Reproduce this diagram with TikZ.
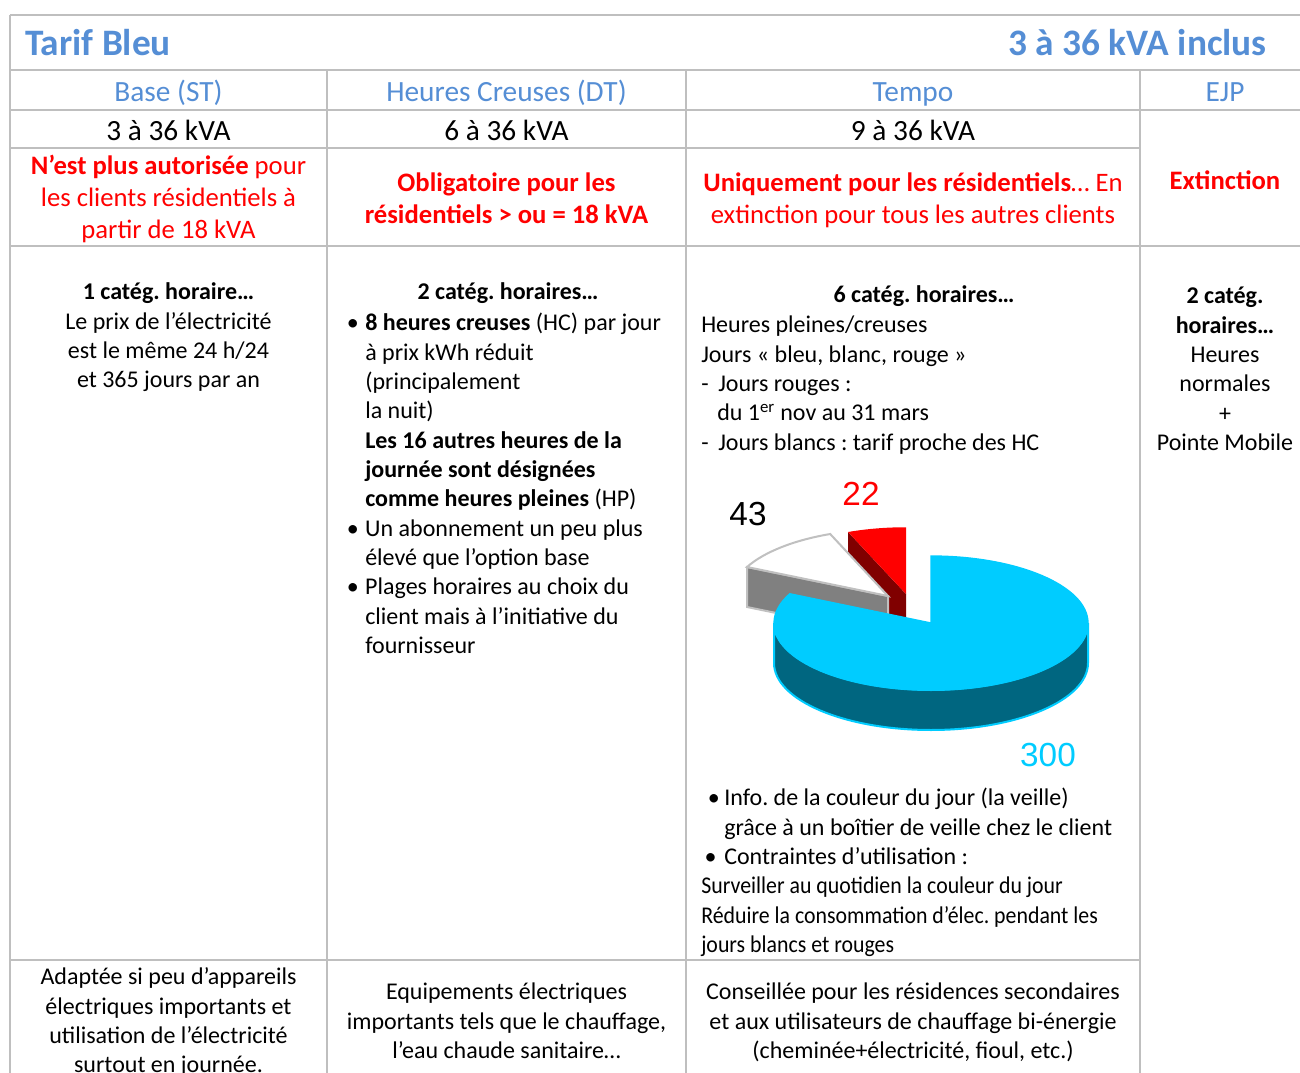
\documentclass[tikz,border=0pt]{standalone}
\usepackage{fontspec}
\usepackage{graphicx}
\setmainfont{Carlito}
\newfontfamily\chartfont{Liberation Sans}
\usetikzlibrary{positioning}
\frenchspacing
\definecolor{gridgray}{HTML}{BFBFBF}
\definecolor{hdrblue}{HTML}{558ED5}
\definecolor{pieblue}{HTML}{00CCFF}
\definecolor{pieteal}{HTML}{006680}
\definecolor{piedark}{HTML}{800000}
\definecolor{piegray}{HTML}{808080}
\definecolor{pieedge}{HTML}{C0C0C0}
\newcommand{\bul}{\makebox[15.75pt][l]{\hspace*{2pt}\textbullet}}
\newcommand{\ind}{\hspace*{15.75pt}}
\newcommand{\narrow}[1]{\scalebox{0.91}[1]{#1}}

\begin{document}
\begin{tikzpicture}[x=0.75pt,y=-0.75pt,
	grid/.style={draw=gridgray, line width=1.5pt},
	title/.style={text=hdrblue, font=\fontsize{28}{32}\selectfont\bfseries, inner sep=0pt},
	hdr/.style={text=hdrblue, font=\fontsize{22}{26}\selectfont, inner sep=0pt, anchor=base},
	kva/.style={font=\fontsize{22}{26}\selectfont, inner sep=0pt, anchor=base},
	warn/.style={text=red, font=\fontsize{20}{24}\selectfont, inner sep=0pt, anchor=base, align=center},
	cell/.style={font=\fontsize{18}{22}\selectfont, inner sep=0pt, anchor=base, align=center},
	lcell/.style={font=\fontsize{18}{22}\selectfont, inner sep=0pt, anchor=base west, align=left},
	chart/.style={font=\fontsize{25}{28}\chartfont, inner sep=0pt},
	edge/.style={draw=pieedge, line width=1.5pt}]
	% base of a multi-line node is its last line: first baseline + (n-1) skips
	\pgfmathsetmacro{\lineSkip}{29.33}
	\pgfmathsetmacro{\warnSkip}{32}
	
	\fill[white] (0,0) rectangle (1300,1073);
	\useasboundingbox (0,0) rectangle (1300,1073);
	
	% table grid
	\draw[grid] (10,15) -- (1300,15);
	\draw[grid] (10,70) -- (1300,70);
	\draw[grid] (10,110) -- (1300,110);
	\draw[grid] (10,148) -- (1140,148);
	\draw[grid] (10,246) -- (1300,246);
	\draw[grid] (10,960) -- (1140,960);
	\draw[grid] (10,15) -- (10,1073);
	\foreach \x in {327,686,1140} {
		\draw[grid] (\x,70) -- (\x,1073);
	}
	
	% title row
	\node[title, anchor=base west] (tarif) at (25,56) {Tarif Bleu};
	\node[title, anchor=base east] (range) at (1267,56) {3 à 36 kVA inclus};
	
	% option names
	\node[hdr] (hBase) at (168.5,102) {Base (ST)};
	\node[hdr] (hHC) at (506.5,102) {Heures Creuses (DT)};
	\node[hdr] (hTempo) at (913,102) {Tempo};
	\node[hdr] (hEJP) at (1225,102) {EJP};
	
	\node[kva] (pBase) at (168.5,141) {3 à 36 kVA};
	\node[kva] (pHC) at (506.5,141) {6 à 36 kVA};
	\node[kva] (pTempo) at (913,141) {9 à 36 kVA};
	
	% who may subscribe
	\node[warn] (rBase) at (168.5,{175+2*\warnSkip}) {\textbf{N’est plus autorisée} pour\\les clients résidentiels à\\partir de 18 kVA};
	\node[warn] (rHC) at (506.5,{192+\warnSkip}) {\textbf{Obligatoire pour les}\\\textbf{résidentiels > ou = 18 kVA}};
	\node[warn] (rTempo) at (913,{192+\warnSkip}) {\textbf{Uniquement pour les résidentiels}… En\\extinction pour tous les autres clients};
	\node[warn] (rEJP) at (1225,190) {\textbf{Extinction}};
	
	% time slots
	\node[cell] (cBase) at (168.5,{300+3*\lineSkip}) {\textbf{1 catég. horaire…}\\Le prix de l’électricité\\est le même 24 h/24\\et 365 jours par an};
	\node[cell] (tHC) at (508,300) {\textbf{2 catég. horaires…}};
	\node[lcell] (cHC) at (344,{331+11*\lineSkip}) {\bul\textbf{8 heures creuses} (HC) par jour\\
		\ind à prix kWh réduit\\
		\ind (principalement\\
		\ind la nuit)\\
		\ind\textbf{Les 16 autres heures de la}\\
		\ind\textbf{journée sont désignées}\\
		\ind\textbf{comme heures pleines} (HP)\\
		\bul Un abonnement un peu plus\\
		\ind élevé que l’option base\\
		\bul Plages horaires au choix du\\
		\ind client mais à l’initiative du\\
		\ind fournisseur};
	\node[cell] (tTempo) at (924,303) {\textbf{6 catég. horaires…}};
	\node[lcell] (cTempo) at (701,{333+4*\lineSkip}) {Heures pleines/creuses\\
		Jours « bleu, blanc, rouge »\\
		\makebox[12.75pt][l]{-}Jours rouges :\\
		\hspace*{12pt}du 1\textsuperscript{er} nov au 31 mars\\
		\makebox[12.75pt][l]{-}Jours blancs : tarif proche des HC};
	\node[cell] (cEJP) at (1225,{304+5*\lineSkip}) {\textbf{2 catég.}\\\textbf{horaires…}\\Heures\\normales\\+\\Pointe Mobile};
	
	% pie of the days in a Tempo year
	\fill[piedark] (906,594) -- (848,532) -- (848,572) -- (906,634) -- cycle;
	\fill[red] (906,594) -- (848,532) arc[start angle=248.3, end angle=270, x radius=157, y radius=67] -- cycle;
	\filldraw[edge, fill=piegray] (888,596) -- (747,567) -- (747,607) -- (888,636) -- cycle;
	\filldraw[edge, fill=white] (888,596) -- (747,567) arc[start angle=205.9, end angle=248.3, x radius=157, y radius=67] -- cycle;
	\filldraw[fill=pieteal, draw=pieblue, line width=1.5pt] (1088,623) arc[start angle=0, end angle=180, x radius=157, y radius=67] -- (774,663) arc[start angle=180, end angle=0, x radius=157, y radius=67] -- cycle;
	\filldraw[fill=pieblue, draw=pieblue, line width=1pt] (931,623) -- (931,556) arc[start angle=270, end angle=565.9, x radius=157, y radius=67] -- cycle;
	\node[chart, text=black] (nWhite) at (748,514) {43};
	\node[chart, text=red] (nRed) at (861,494) {22};
	\node[chart, text=pieblue] (nBlue) at (1048,755) {300};
	
	\node[lcell] (cTempoB) at (701,{806+5*\lineSkip}) {\hspace*{5pt}\makebox[12.25pt][l]{\textbullet}Info. de la couleur du jour (la veille)\\
		\hspace*{17.25pt}grâce à un boîtier de veille chez le client\\
		\hspace*{2.5pt}\makebox[14.75pt][l]{\textbullet}Contraintes d’utilisation :\\
		\narrow{Surveiller au quotidien la couleur du jour}\\
		\narrow{Réduire la consommation d’élec. pendant les}\\
		\narrow{jours blancs et rouges}};
	
	% who it suits
	\node[cell] (uBase) at (168.5,{985+3*\lineSkip}) {Adaptée si peu d’appareils\\électriques importants et\\utilisation de l’électricité\\surtout en journée.};
	\node[cell] (uHC) at (506.5,{1000+2*\lineSkip}) {Equipements électriques\\importants tels que le chauffage,\\l’eau chaude sanitaire…};
	\node[cell] (uTempo) at (913,{1000+2*\lineSkip}) {Conseillée pour les résidences secondaires\\et aux utilisateurs de chauffage bi-énergie\\(cheminée+électricité, fioul, etc.)};
\end{tikzpicture}
\end{document}
